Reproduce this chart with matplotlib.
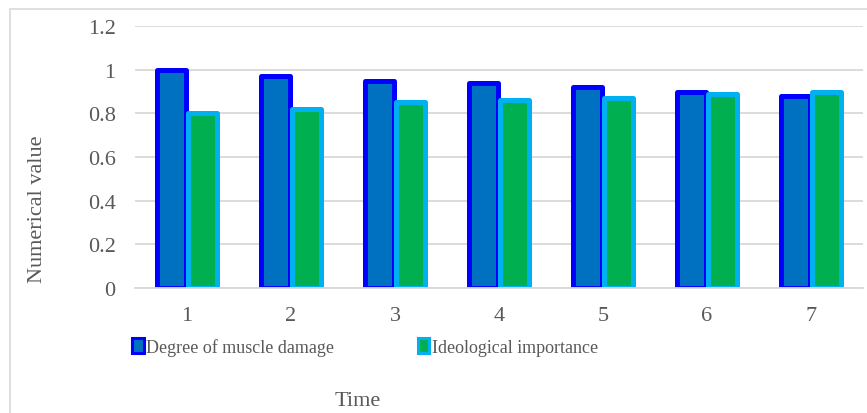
#!/usr/bin/env python3
"""Grouped bars: muscle damage vs ideological importance over time."""

import matplotlib
matplotlib.use("Agg")
import matplotlib.pyplot as plt
from matplotlib.patches import Rectangle
import numpy as np

times = ["1", "2", "3", "4", "5", "6", "7"]
muscle_damage = [1.00, 0.97, 0.95, 0.94, 0.92, 0.90, 0.88]
ideological = [0.80, 0.82, 0.85, 0.86, 0.87, 0.89, 0.90]
series_names = ["Degree of muscle damage", "Ideological importance"]

TEXT = "#595959"
GRID = "#d9d9d9"
FONT = "Liberation Serif"

plt.rcParams["font.family"] = [FONT, "DejaVu Serif"]

fig = plt.figure(figsize=(8.67, 4.14), dpi=100)

# light outer chart frame
frame = Rectangle((10 / 867, -0.1), 1.2, 1.1 - 10 / 414,
                  transform=fig.transFigure, fill=False,
                  edgecolor=GRID, linewidth=1.2)
fig.patches.append(frame)

ax = fig.add_axes([135 / 867, 1 - 289 / 414, 728 / 867, 262 / 414])

x = np.arange(len(times))
width = 0.28
offset = 0.145
ax.bar(x - offset, muscle_damage, width, color="#0070c0", edgecolor="#0000ff",
       linewidth=3.6, joinstyle="round", zorder=3)
ax.bar(x + offset, ideological, width, color="#00b050", edgecolor="#00b0f0",
       linewidth=3.6, joinstyle="round", zorder=3)

ax.set_xlim(-0.5, len(times) - 0.5)
ax.set_ylim(0, 1.2)
ax.set_yticks([0, 0.2, 0.4, 0.6, 0.8, 1.0, 1.2])
ax.set_yticklabels(["0", "0.2", "0.4", "0.6", "0.8", "1", "1.2"])
ax.set_xticks(x)
ax.set_xticklabels(times)
ax.tick_params(axis="both", length=0, labelsize=16, labelcolor=TEXT)
ax.tick_params(axis="y", pad=14)
ax.tick_params(axis="x", pad=13)

ax.grid(axis="y", color=GRID, linewidth=1.3, zorder=0)
ax.set_axisbelow(True)
for side in ("left", "right", "top"):
    ax.spines[side].set_visible(False)
ax.spines["bottom"].set_color(GRID)
ax.spines["bottom"].set_linewidth(1.3)
ax.spines["bottom"].set_zorder(4)

ax.set_ylabel("Numerical value", fontsize=16, color=TEXT)
ax.yaxis.set_label_coords(-0.121, 0.305)

fig.text(357.5 / 867, 1 - 402 / 414, "Time", fontsize=16, color=TEXT,
         ha="center", va="center")

handles = [
    Rectangle((0, 0), 1, 1, facecolor="#0070c0", edgecolor="#0000ff", linewidth=2.2),
    Rectangle((0, 0), 1, 1, facecolor="#00b050", edgecolor="#00b0f0", linewidth=2.2),
]
leg = ax.legend(handles, series_names, loc="center left",
                bbox_to_anchor=(132 / 867, 1 - 348 / 414),
                bbox_transform=fig.transFigure, ncol=2, frameon=False,
                fontsize=13, handlelength=0.65, handleheight=0.85,
                handletextpad=0.15, columnspacing=4.6, borderpad=0,
                borderaxespad=0)
for t in leg.get_texts():
    t.set_color(TEXT)

fig.savefig("out.png", dpi=100)
plt.close(fig)
